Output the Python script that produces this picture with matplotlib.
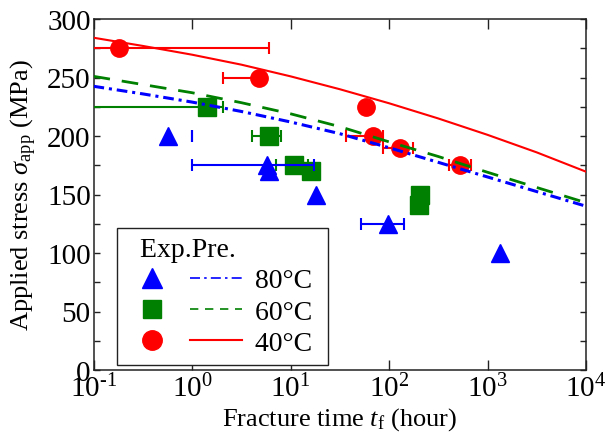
import numpy as np
import matplotlib
matplotlib.use("Agg")
import matplotlib.pyplot as plt
from matplotlib.lines import Line2D
from matplotlib.legend_handler import HandlerTuple
from matplotlib.ticker import NullLocator, MultipleLocator

plt.rcParams['font.family'] = ['Liberation Serif', 'DejaVu Serif']
plt.rcParams['mathtext.fontset'] = 'custom'
plt.rcParams['mathtext.rm'] = 'Liberation Serif'
plt.rcParams['mathtext.it'] = 'Liberation Serif:italic'
plt.rcParams['mathtext.bf'] = 'Liberation Serif:bold'

# ---- experimental data (fracture time in hours, applied stress in MPa) ----
t40 = [0.18, 4.8, 59, 69, 128, 530]
s40 = [275, 250, 225, 200, 190, 175]
t40_lo = [0.005, 2.05, 59, 36.5, 86, 410]
t40_hi = [6.0, 4.8, 59, 86, 175, 680]

t60 = [1.42, 6.0, 10.9, 16.0, 205, 200]
s60 = [225, 200, 175, 170, 150, 141]
t60_lo = [0.005, 4.1, 7.2, 16.0, 205, 200]
t60_hi = [2.05, 8.0, 15.1, 16.0, 205, 200]

t80 = [0.57, 5.8, 6.1, 18.0, 97, 1350]
s80 = [200, 175, 170, 150, 125, 100]
t80_lo = [0.57, 1.0, 6.1, 18.0, 51.6, 1350]
t80_hi = [0.57, 17.4, 6.1, 18.0, 143, 1350]
cap80_t = [1.0]
cap80_s = [200]

# ---- predicted curves ----
pred_t = [0.1, 0.316, 1, 3.16, 10, 31.6, 100, 316, 1000, 3160, 10000]
pred40 = [284, 277, 269.5, 261, 251, 240, 228, 215, 201, 186, 169.5]
pred60 = [251, 244, 237, 228.5, 219, 208, 195, 182.5, 169, 156, 143]
pred80 = [242.5, 236, 229, 221, 212, 202, 190, 177.5, 165, 152.5, 140]

xticks = [0.1, 1, 10, 100, 1000, 10000]
xticklabels = ['$10^{\u20101}$', '$10^{0}$', '$10^{1}$', '$10^{2}$', '$10^{3}$', '$10^{4}$']
yticks = [0, 50, 100, 150, 200, 250, 300]
legend_labels = ['80°C ', '60°C ', '40°C ']

RED, GREEN, BLUE = '#ff0000', '#008000', '#0000ff'

fig = plt.figure(figsize=(6.1, 4.35), dpi=100)
ax = fig.add_axes([93.5 / 610, 1 - 371 / 435, 492.5 / 610, 351 / 435])


def xerr(t, lo, hi):
    t = np.asarray(t, float)
    return [t - np.asarray(lo, float), np.asarray(hi, float) - t]


eb_kw = dict(ls='none', elinewidth=1.5, capsize=4.5, capthick=1.5)
ax.errorbar(t60, s60, xerr=xerr(t60, t60_lo, t60_hi), fmt='s', ms=12.5,
            color=GREEN, mec=GREEN, ecolor=GREEN, zorder=3, **eb_kw)
ax.errorbar(t40, s40, xerr=xerr(t40, t40_lo, t40_hi), fmt='o', ms=12.5,
            color=RED, mec=RED, ecolor=RED, zorder=3.2, **eb_kw)
ax.errorbar(t80, s80, xerr=xerr(t80, t80_lo, t80_hi), fmt='^', ms=13,
            color=BLUE, mec=BLUE, ecolor=BLUE, zorder=3.4, **eb_kw)
ax.errorbar(cap80_t, cap80_s, xerr=[[0], [0]], fmt='none', ecolor=BLUE,
            zorder=3.4, **eb_kw)

ax.plot(pred_t, pred40, color=RED, lw=1.5, zorder=4)
ax.plot(pred_t, pred60, color=GREEN, lw=2.0, ls=(0, (6, 4.3)), zorder=4.1)
ax.plot(pred_t, pred80, color=BLUE, lw=2.2, ls=(0, (3.5, 1.6, 1.0, 1.6)), zorder=4.2)

ax.set_xscale('log')
ax.set_xlim(0.1, 1e4)
ax.set_ylim(0, 300)
ax.set_xticks(xticks)
ax.set_xticklabels(xticklabels)
ax.xaxis.set_minor_locator(NullLocator())
ax.set_yticks(yticks)
ax.yaxis.set_minor_locator(MultipleLocator(25))
ax.tick_params(which='both', direction='in', top=True, right=True,
               color='#222222')
ax.tick_params(axis='x', which='major', length=7, width=1.0, labelsize=21, pad=3)
ax.tick_params(axis='y', which='both', length=4.5, width=1.0, labelsize=21, pad=2)
for sp in ax.spines.values():
    sp.set_linewidth(1.1)
    sp.set_color('#222222')

ax.set_xlabel(r'Fracture time $t_{\mathrm{f}}$ (hour)', fontsize=19, labelpad=2)
ax.set_ylabel(r'Applied stress $\sigma_{\mathrm{app}}$ (MPa)', fontsize=19, labelpad=6)

# legend: marker + line per temperature
h80 = (Line2D([], [], marker='^', ls='none', ms=14, color=BLUE),
       Line2D([], [], color=BLUE, lw=1.2, ls=(0, (6, 2.5, 1.5, 2.5))))
h60 = (Line2D([], [], marker='s', ls='none', ms=13, color=GREEN),
       Line2D([], [], color=GREEN, lw=1.2, ls=(0, (5, 4))))
h40 = (Line2D([], [], marker='o', ls='none', ms=14, color=RED),
       Line2D([], [], color=RED, lw=1.5))
leg = ax.legend([h80, h60, h40], legend_labels,
                handler_map={tuple: HandlerTuple(ndivide=None, pad=0.43)},
                title='  Exp.Pre.', title_fontsize=20, fontsize=20,
                loc='lower left', bbox_to_anchor=(0.0477, 0.014),
                borderaxespad=0, handlelength=4.18, handletextpad=0.45,
                labelspacing=0.21, borderpad=0.33, frameon=True,
                fancybox=False, edgecolor='#222222', framealpha=1,
                alignment='left')
leg.get_frame().set_linewidth(1.0)

fig.savefig('out.png', dpi=100)
